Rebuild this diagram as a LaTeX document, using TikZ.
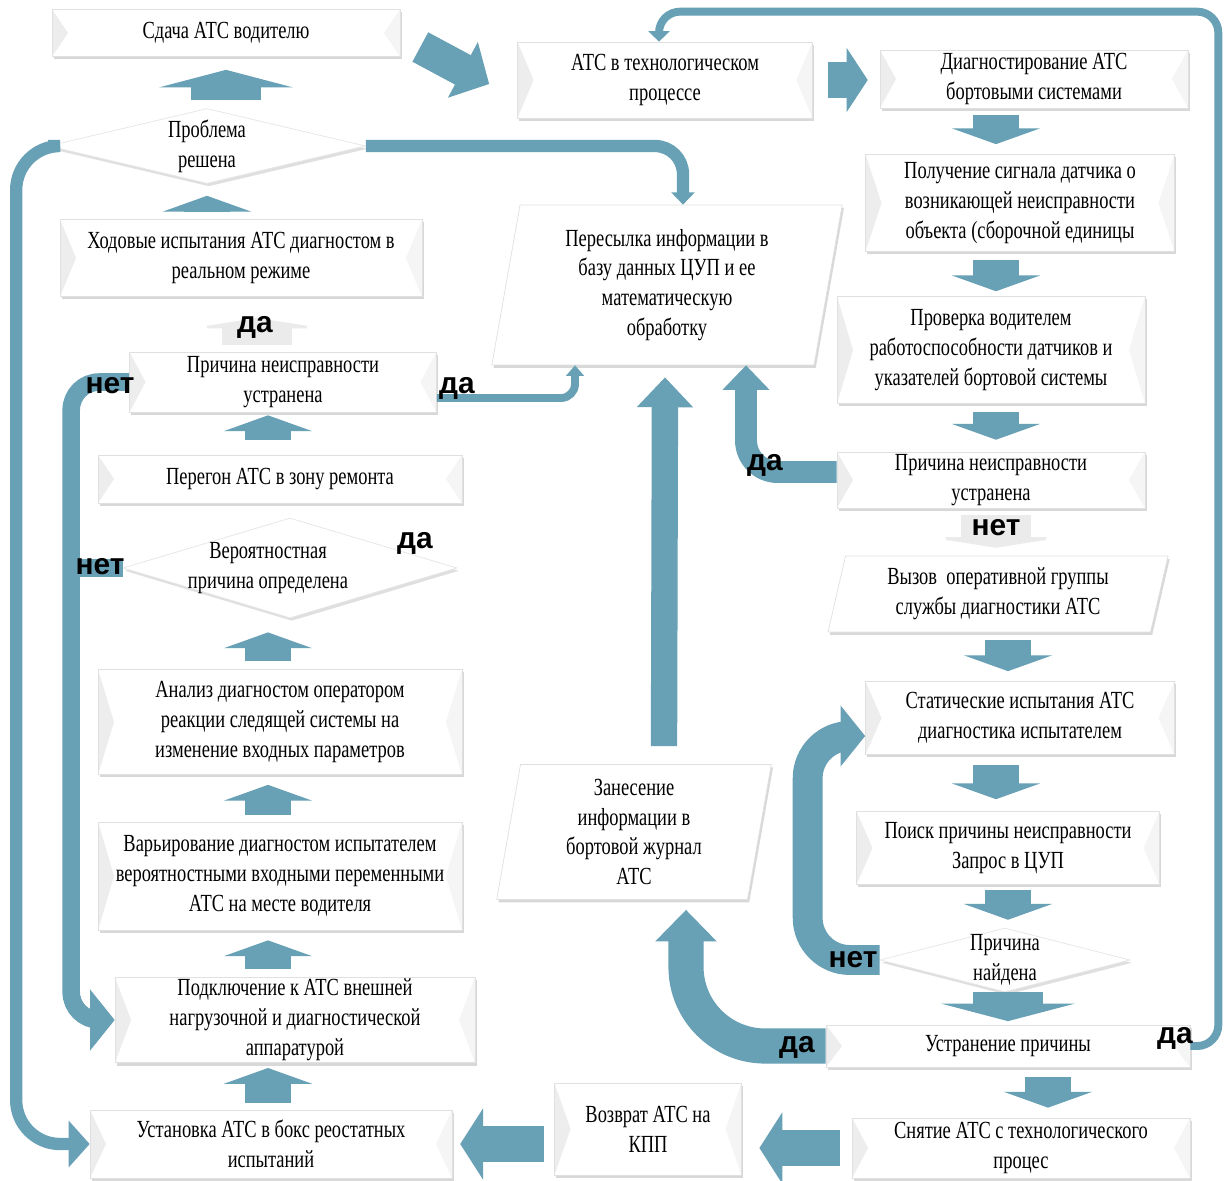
\documentclass[tikz,border=0pt]{standalone}
\usepackage{fontspec}
\setmainfont{Liberation Serif}[FakeStretch=0.75]
\newfontfamily\lblfont{Liberation Sans}
\usetikzlibrary{arrows.meta,shapes.geometric,shadows}
\definecolor{pipe}{RGB}{104,160,181}
\definecolor{pipelight}{RGB}{170,214,228}
\newcommand\boxfont{\fontsize{14}{17}\selectfont}

\begin{document}
\begin{tikzpicture}[x=0.02cm, y=-0.02cm,
    box/.style={draw=black!12, fill=white, align=center, inner sep=1pt, font=\boxfont,
      drop shadow={shadow xshift=1pt, shadow yshift=-1.6pt, opacity=0.3},
      path picture={
        \fill[black!7] (path picture bounding box.north west) -- ([shift={(16,0)}]path picture bounding box.west) -- (path picture bounding box.south west) -- cycle;
        \fill[black!4] (path picture bounding box.north east) -- ([shift={(-16,0)}]path picture bounding box.east) -- (path picture bounding box.south east) -- cycle;}},
    dia/.style={diamond, draw=black!10, fill=white, inner sep=0pt,
      drop shadow={shadow xshift=1pt, shadow yshift=-1.6pt, opacity=0.25}},
    para/.style={trapezium, trapezium left angle=80, trapezium right angle=100,
      draw=black!12, fill=white,
      drop shadow={shadow xshift=1pt, shadow yshift=-1.6pt, opacity=0.3}},
    boxtxt/.style={align=center, font=\boxfont, inner sep=0pt},
    lbl/.style={font=\lblfont\bfseries\fontsize{17}{17}\selectfont, inner sep=0pt},
    flat/.style={draw=pipe, line width=26pt, -{Triangle[width=50pt,length=9pt]}},
    flatbig/.style={draw=pipe, line width=40pt, -{Triangle[width=76pt,length=10pt]}},
    ghost/.style={draw=black!8, line width=40pt, -{Triangle[width=76pt,length=6pt]}},
    side/.style={draw=pipe, line width=20pt, -{Triangle[width=40pt,length=13pt]}},
    pipeline/.style={draw=pipe, line width=#1}]

  \fill[white] (0,0) rectangle (1227,1180);
  \useasboundingbox (0,0) rectangle (1227,1180);

  % right column
  \path (226,33) node[box, minimum width=6.96cm, minimum height=0.94cm] (hand) {Сдача АТС водителю};
  \path (665,80) node[box, minimum width=5.9cm, minimum height=1.52cm] (tech) {АТС в технологическом\\процессе};
  \path (1034,79) node[box, minimum width=6.16cm, minimum height=1.16cm] (diag) {Диагностирование АТС\\бортовыми системами};
  \path (1020,203) node[box, minimum width=6.18cm, minimum height=1.94cm] (signal) {Получение сигнала датчика о\\возникающей неисправности\\объекта (сборочной единицы};
  \path (991,350) node[box, minimum width=6.16cm, minimum height=2.14cm] (check) {Проверка водителем\\работоспособности датчиков и\\указателей бортовой системы};
  \path (991,480) node[box, minimum width=6.16cm, minimum height=1.12cm] (fixR) {Причина неисправности\\устранена};
  \path (998,594) node[para, trapezium left angle=77, trapezium right angle=103, inner xsep=3.05cm, inner ysep=0.76cm,
    label={[boxtxt]center:{Вызов\ \ оперативной группы\\службы диагностики АТС}}] (call) {};
  \path (1020,718) node[box, minimum width=6.18cm, minimum height=1.46cm] (static) {Статические испытания АТС\\диагностика испытателем};
  \path (1008,848) node[box, minimum width=6.06cm, minimum height=1.46cm] (search) {Поиск причины неисправности\\Запрос в ЦУП};
  \path (1005,960) node[dia, minimum width=5cm, minimum height=1.28cm,
    label={[boxtxt]center:{Причина\\найдена}}] (found) {};
  \path (1008,1046) node[box, minimum width=7.28cm, minimum height=0.84cm] (elim) {Устранение причины};
  \path (1021,1148) node[box, minimum width=6.76cm, minimum height=1.2cm] (remove) {Снятие АТС с технологического\\процес};

  % middle
  \path (667,285) node[para, inner xsep=2.94cm, inner ysep=1.6cm,
    label={[boxtxt]center:{Пересылка информации в\\базу данных ЦУП и ее\\математическую\\обработку}}] (send) {};
  \path (634,832) node[para, inner xsep=2.27cm, inner ysep=1.35cm,
    label={[boxtxt]center:{Занесение\\информации в\\бортовой журнал\\АТС}}] (log) {};
  \path (648,1129) node[box, minimum width=3.74cm, minimum height=1.84cm] (back) {Возврат АТС на\\КПП};

  % left column
  \path (207,146) node[dia, minimum width=6.34cm, minimum height=1.5cm,
    label={[boxtxt]center:{Проблема\\решена}}] (solved) {};
  \path (241,258) node[box, minimum width=7.24cm, minimum height=1.54cm] (road) {Ходовые испытания АТС диагностом в\\реальном режиме};
  \path (283,382) node[box, minimum width=6.14cm, minimum height=1.2cm] (fixL) {Причина неисправности\\устранена};
  \path (280,479) node[box, minimum width=7.28cm, minimum height=0.96cm] (move) {Перегон АТС в зону ремонта};
  \path (290,568) node[dia, minimum width=6.68cm, minimum height=2cm,
    label={[boxtxt, xshift=-0.44cm]center:{Вероятностная\\причина определена}}] (guess) {};
  \path (280,722) node[box, minimum width=7.28cm, minimum height=2.1cm] (analysis) {Анализ диагностом оператором\\реакции следящей системы на\\изменение входных параметров};
  \path (280,876) node[box, minimum width=7.28cm, minimum height=2.16cm] (vary) {Варьирование диагностом испытателем\\вероятностными входными переменными\\АТС на месте водителя};
  \path (295,1020) node[box, minimum width=7.2cm, minimum height=1.7cm] (connect) {Подключение к АТС внешней\\нагрузочной и диагностической\\аппаратурой};
  \path (271,1144) node[box, minimum width=7.24cm, minimum height=1.36cm] (install) {Установка АТС в бокс реостатных\\испытаний};

  \coordinate (lc) at (268,0);
  \coordinate (rc) at (996,0);
  \coordinate (rc2) at (1008,0);

  % flat arrows, left column
  \draw[flatbig, shorten <=4.5pt, shorten >=7.4pt] (hand.south |- solved.north) -- (hand.south);
  \draw[flat, shorten <=4pt, shorten >=6.8pt] (solved.south |- road.north) -- (solved.south);
  \draw[ghost, shorten <=4pt, shorten >=12pt] ([shift={(-26,0)}]fixL.north) -- ([shift={(16,0)}]road.south);
  \draw[flat, shorten <=8.5pt, shorten >=1.7pt] (lc |- move.north) -- (lc |- fixL.south);
  \draw[flat, shorten <=4.5pt, shorten >=8pt] (lc |- analysis.north) -- (lc |- guess.south);
  \draw[flat, shorten <=4pt, shorten >=5.7pt] (lc |- vary.north) -- (lc |- analysis.south);
  \draw[flat, shorten <=4.5pt, shorten >=5.7pt] (lc |- connect.north) -- (lc |- vary.south);
  \draw[flat, shorten <=4pt, shorten >=2.8pt] (lc |- install.north) -- (lc |- connect.south);

  % flat arrows, right column
  \draw[flat, shorten <=4pt, shorten >=5.7pt] (rc |- diag.south) -- (rc |- signal.north);
  \draw[flat, shorten <=4.5pt, shorten >=2.8pt] (rc |- signal.south) -- (rc |- check.north);
  \draw[flat, shorten <=4.5pt, shorten >=6.8pt] (rc |- check.south) -- (rc |- fixR.north);
  \draw[ghost, shorten <=4pt, shorten >=4.5pt] (rc |- fixR.south) -- (rc |- call.north);
  \draw[flat, shorten <=4.5pt, shorten >=5.7pt] (rc2 |- call.south) -- (rc2 |- static.north);
  \draw[flat, shorten <=5.7pt, shorten >=6.8pt] (rc |- static.south) -- (rc |- search.north);
  \draw[flat, shorten <=2.8pt, shorten >=4.5pt] (rc2 |- search.south) -- (rc2 |- found.north);
  \draw[flatbig, shorten >=2pt] (rc2 |- found.south) -- (rc2 |- elim.north);
  \draw[flat, shorten <=5.7pt, shorten >=5.7pt] ([shift={(40,0)}]elim.south) -- ([shift={(27,0)}]remove.north);

  % sideways
  \draw[pipeline=19pt, -{Triangle[width=35pt,length=17pt]}] ([shift={(20,14)}]hand.east) -- ([shift={(-28,4)}]tech.west);
  \draw[side, -{Triangle[width=36pt,length=12pt]}, shorten <=8.5pt, shorten >=6.8pt] (tech.east) -- (diag.west |- tech.east);
  \draw[side, shorten <=6.8pt, shorten >=10pt] (remove.west) -- (back.east |- remove.west);
  \draw[side, shorten <=5.7pt, shorten >=4.5pt] (install.east -| back.west) -- (install.east);

  % tubes
  \draw[pipeline=7pt, -{Triangle[width=13pt,length=7pt]}, rounded corners=16pt] (solved.east) -| ([shift={(16,0)}]send.north);
  \draw[pipeline=7pt, -{Triangle[width=26pt,length=12pt]}, rounded corners=25pt] (solved.west) -- ++(-32,0) |- (install.west);
  \coordinate (drop) at ([shift={(-58,0)}]fixL.west);
  \draw[pipeline=10pt] (guess.west) -- (guess.west -| drop);
  \draw[pipeline=10pt, -{Triangle[width=34pt,length=14pt]}, rounded corners=16pt] (fixL.west) -- (drop) |- (connect.west);
  \draw[pipeline=4.5pt, -{Triangle[width=10pt,length=6pt]}, rounded corners=8pt] ([shift={(0,16)}]fixL.east) -| ([shift={(-92,0)}]send.south);
  \draw[pipeline=12.5pt, -{Triangle[width=26pt,length=14pt]}, rounded corners=18pt] ([shift={(0,-8)}]fixR.west) -| ([shift={(79,0)}]send.south);
  \draw[pipeline=15pt, -{Triangle[width=31pt,length=17pt]}] ([shift={(30,-18)}]log.north) -- ([shift={(-2,12)}]send.south);
  \draw[pipeline=17pt, -{Triangle[width=34pt,length=14pt]}, rounded corners=24pt] (found.west) -- ++(-72,0) |- ([shift={(0,18)}]static.west);
  \draw[pipeline=20pt, -{Triangle[width=34pt,length=18pt]}, rounded corners=45pt] (elim.west) -| ([shift={(52,10)}]log.south);
  \draw[pipeline=4.5pt, -{Triangle[width=12pt,length=6pt]}, rounded corners=12pt] (elim.east) -- ++(28,0) |- ([shift={(-6,-30)}]tech.north) -- ([shift={(-6,0)}]tech.north);

  % answers
  \path (255,327) node[lbl] (yesRoad) {да};
  \path (110,386) node[lbl] (noFixL) {нет};
  \path (457,388) node[lbl] (yesFixL) {да};
  \path (415,543) node[lbl] (yesGuess) {да};
  \path (100,567) node[lbl] (noGuess) {нет};
  \path (765,465) node[lbl] (yesFixR) {да};
  \path (996,528) node[lbl] (noFixR) {нет};
  \path (853,960) node[lbl] (noFound) {нет};
  \path (797,1047) node[lbl] (yesElimL) {да};
  \path (1175,1038) node[lbl] (yesElimR) {да};
\end{tikzpicture}
\end{document}
